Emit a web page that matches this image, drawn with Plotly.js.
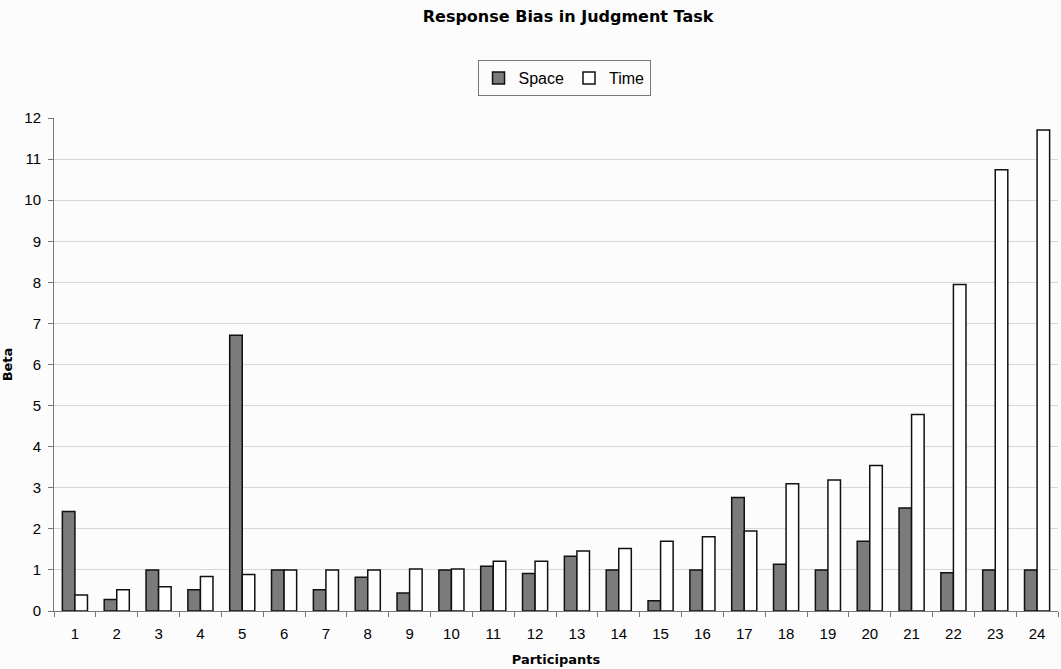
<!DOCTYPE html>
<html>
<head>
<meta charset="utf-8">
<script src="https://cdn.plot.ly/plotly-3.0.1.min.js"></script>
<style>html,body{margin:0;padding:0;background:#fff;}#chart{width:1061px;height:669px;}</style>
</head>
<body>
<div id="chart"></div>
<script>
const participants = ["1","2","3","4","5","6","7","8","9","10","11","12","13","14","15","16","17","18","19","20","21","22","23","24"];
const spaceValues = [2.42,0.28,1.0,0.52,6.71,1.0,0.52,0.82,0.44,1.0,1.09,0.91,1.33,1.0,0.25,1.0,2.76,1.14,1.0,1.70,2.51,0.93,1.0,1.0];
const timeValues  = [0.39,0.52,0.59,0.84,0.89,1.0,1.0,1.0,1.02,1.02,1.21,1.21,1.46,1.52,1.70,1.81,1.95,3.10,3.19,3.54,4.78,7.95,10.74,11.71];
const yTicks = [0,1,2,3,4,5,6,7,8,9,10,11,12];

const font = "Liberation Sans, Arial, sans-serif";
const boldFont = "DejaVu Sans, Liberation Sans, sans-serif";
const traces = [
  {type:"bar", name:"Space", x:participants, y:spaceValues,
   marker:{color:"#7b7b7b", line:{color:"#111", width:1.5}}},
  {type:"bar", name:"Time", x:participants, y:timeValues,
   marker:{color:"#ffffff", line:{color:"#111", width:1.5}}}
];
const layout = {
  width:1061, height:669,
  paper_bgcolor:"#fcfcfc", plot_bgcolor:"#fcfcfc",
  margin:{l:54, r:3, t:118, b:58},
  barmode:"group", bargap:0.4, bargroupgap:0,
  font:{family:font, size:14, color:"#000"},
  title:{text:"<b>Response Bias in Judgment Task</b>", x:0.512, xref:"paper", xanchor:"center",
         y:0.975, yanchor:"middle", font:{family:boldFont, size:16, color:"#000"}},
  showlegend:true,
  legend:{orientation:"h", x:0.508, xanchor:"center", y:1.081, yanchor:"middle",
          bordercolor:"#777", borderwidth:1, bgcolor:"#fcfcfc",
          font:{family:font, size:16}, itemwidth:30, traceorder:"normal"},
  xaxis:{type:"category", tickson:"boundaries", ticks:"outside", ticklen:5, tickcolor:"#777",
         showline:true, linecolor:"#777", linewidth:1, showgrid:false,
         ticklabelstandoff:9,
         tickfont:{family:font, size:15},
         title:{text:"<b>Participants</b>", standoff:13, font:{family:boldFont, size:13}}},
  yaxis:{range:[0,12], tickvals:yTicks, ticktext:yTicks.map(String), ticks:"outside", ticklen:5, tickcolor:"#777",
         showline:true, linecolor:"#777", linewidth:1, showgrid:true, gridcolor:"#d8d8d8", zeroline:false,
         ticklabelstandoff:4,
         tickfont:{family:font, size:15},
         title:{text:"<b>Beta</b>", standoff:9, font:{family:boldFont, size:13}}}
};
Plotly.newPlot("chart", traces, layout, {displayModeBar:false, staticPlot:true});
</script>
</body>
</html>
